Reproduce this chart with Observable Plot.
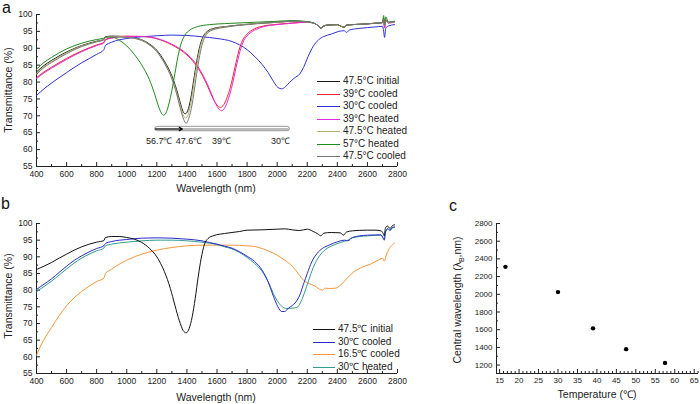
<!DOCTYPE html>
<html><head><meta charset="utf-8">
<script src="https://cdn.jsdelivr.net/npm/d3@7"></script>
<script src="https://cdn.jsdelivr.net/npm/@observablehq/plot@0.6"></script>
<style>
body{margin:0;background:#fff}
#fig{position:relative;width:700px;height:404px;overflow:hidden;background:#fff;font-family:"Liberation Sans",Arial,sans-serif;color:#222}
.plabel{position:absolute;font-size:16px;line-height:16px;color:#111}
.title{position:absolute;white-space:nowrap;font-size:10.5px;transform:translate(-50%,-50%)}
.rot{transform:translate(-50%,-50%) rotate(-90deg)}
.leg{position:absolute;font-size:10px;line-height:12.5px;white-space:nowrap;width:110px}
.leg .row{position:relative;height:12.5px}
.leg .ln{position:absolute;top:6px;height:0;border-top:1.2px solid}
.leg .tx{position:absolute;top:0;white-space:nowrap}
</style>
</head><body>
<div id="fig"></div>
<script>
// ---------------- DATA ----------------
// Panel a: transmittance spectra [wavelength nm, transmittance %]
const tailA = [[2240,97.5],[2270,96.8],[2290,96.0],[2310,96.6],[2340,96.9],[2400,97.0],[2425,96.5],[2445,96.3],[2465,96.9],[2550,97.1],[2650,97.4],[2700,97.6]];

const a_initial475 = [[400,83.0],[450,84.9],[500,86.4],[600,88.9],[700,90.8],[800,92.1],[848,92.6],[858,93.4],[900,93.6],[1000,93.4],[1100,92.5],[1150,91.3],[1200,89.4],[1250,86.2],[1300,81.8],[1330,78],[1355,74],[1375,71.2],[1390,70.6],[1405,71.5],[1425,75],[1445,80.5],[1465,86],[1485,90.5],[1505,93.2],[1535,95],[1580,95.9],[1650,96.4],[1750,96.9],[1850,97.3],[2000,97.7],[2100,98.0],[2200,97.8]];
const a_cooled39 = [[400,81.3],[450,83],[500,84.4],[600,87],[700,89.2],[800,91],[848,91.8],[858,92.6],[900,93.1],[1000,93.6],[1100,93.5],[1200,92.8],[1300,91],[1400,88],[1450,85.6],[1500,82.2],[1540,78.5],[1575,75],[1600,73.2],[1622,72.5],[1645,73.3],[1670,75.8],[1695,79.5],[1720,84.5],[1745,89.2],[1770,92.4],[1800,94.2],[1850,95.8],[1900,96.5],[2000,97.1],[2100,97.5],[2200,97.7]];
const a_cooled30 = [[400,76],[450,78],[500,79.7],[600,82.8],[700,85.7],[800,88.2],[848,89.6],[858,90.8],[900,91.8],[1000,92.9],[1100,93.4],[1200,93.7],[1300,93.9],[1400,93.8],[1500,93.4],[1600,92.9],[1700,92],[1750,91],[1800,89.6],[1850,87.6],[1900,85.2],[1940,82.8],[1975,80.2],[2005,78.4],[2030,78],[2055,78.6],[2080,79.8],[2115,81.2],[2150,82.4],[2175,84.3],[2205,87.5],[2240,90.6],[2275,92.5],[2310,93.5],[2360,94.2],[2410,95],[2445,95.2],[2462,94.7],[2480,95.4],[2550,95.9],[2650,96.3],[2700,96.5],[2708,95],[2714,93.2],[2722,96],[2740,96.6],[2780,97]];
const a_heated39 = [[400,81],[450,82.7],[500,84.1],[600,86.7],[700,89],[800,90.8],[848,91.6],[858,92.4],[900,93],[1000,93.5],[1100,93.5],[1200,92.9],[1300,91.2],[1400,88.3],[1450,86],[1500,82.6],[1545,78.5],[1582,74.5],[1608,72.3],[1630,71.5],[1652,72.4],[1677,75.2],[1702,79.2],[1727,84.3],[1752,89],[1777,92.2],[1808,94],[1860,95.6],[1910,96.4],[2000,97],[2100,97.4],[2200,97.7]];
const a_heated475 = [[400,82.6],[450,84.6],[500,86.1],[600,88.7],[700,90.7],[800,92.0],[848,92.6],[858,93.3],[900,93.5],[1000,93.3],[1100,92.4],[1150,91.1],[1200,89.1],[1250,85.8],[1300,81.3],[1330,77.3],[1355,73.2],[1377,70.1],[1392,69.3],[1408,70.4],[1428,74.2],[1448,80],[1468,85.6],[1488,90.2],[1508,93],[1540,94.9],[1585,95.8],[1650,96.3],[1750,96.9],[1850,97.3],[2000,97.7],[2100,98.0],[2200,97.8]];
const a_heated57 = [[400,83.8],[450,85.8],[500,87.3],[600,89.8],[700,91.5],[800,92.6],[848,93.0],[858,93.3],[900,93.3],[950,92.4],[1000,90.7],[1050,88.2],[1100,85],[1150,80.8],[1185,76.5],[1210,73],[1230,70.8],[1245,70.2],[1260,70.8],[1280,73.5],[1300,77.5],[1320,82.5],[1340,87.5],[1360,91.2],[1385,93.8],[1420,95.4],[1470,96.4],[1550,97],[1650,97.3],[1800,97.6],[2000,98],[2100,98.2],[2200,97.9]];
const a_cooled475 = [[400,82.3],[450,84.3],[500,85.8],[600,88.4],[700,90.5],[800,91.9],[848,92.5],[858,93.2],[900,93.4],[1000,93.2],[1100,92.3],[1150,91],[1200,89],[1250,85.6],[1300,80.9],[1330,76.7],[1355,72.4],[1378,69],[1395,67.8],[1412,69.2],[1435,73.5],[1455,79.5],[1475,85.3],[1495,90],[1515,92.9],[1545,94.8],[1590,95.7],[1650,96.2],[1750,96.8],[1850,97.2],[2000,97.7],[2100,98.0],[2200,97.8]];
const spikeBlack = [[2708,98.5],[2714,96.8],[2722,98.2],[2740,97.6],[2780,97.9]];
const spikeGreen = [[2708,99.7],[2714,97],[2722,99.3],[2740,97.8],[2780,98]];
const spikeRed = [[2708,98.8],[2714,96],[2722,98.5],[2740,97.5],[2780,97.8]];

const aNames = ["47.5°C initial","39°C cooled","30°C cooled","39°C heated","47.5°C heated","57°C heated","47.5°C cooled"];
const aColors = ["#1a1a1a","#e8262f","#3030d8","#e22ad6","#b4b06a","#1f8a1f","#777777"];
const aSeries = [
  a_initial475.concat(tailA, spikeBlack),
  a_cooled39.concat(tailA, spikeRed),
  a_cooled30,
  a_heated39.concat(tailA, spikeRed),
  a_heated475.concat(tailA, spikeBlack),
  a_heated57.concat(tailA, spikeGreen),
  a_cooled475.concat(tailA, spikeBlack)
];

// Panel a annotation
const annotSpan = [1190, 2085];
const annotArrowTip = 1370;
const annotLevel = 66.1;
const annotLabels = ["56.7℃","47.6℃","39℃","30℃"];
const annotLabelX = [1216,1414,1630,2022];
const annotLabelY = 62.4;

// Panel b
const b_initial475 = [[400,86.2],[450,87.2],[500,88.3],[550,89.6],[600,90.8],[650,92],[700,93],[750,93.8],[800,94.4],[848,94.9],[858,95.8],[900,96.1],[950,96.1],[1000,95.8],[1050,95.3],[1100,94.3],[1150,92.6],[1200,90],[1250,85.6],[1290,80.5],[1320,75.5],[1350,70.8],[1375,67.9],[1395,67.2],[1415,68.5],[1435,72],[1455,77.5],[1475,84],[1495,89.6],[1515,93.5],[1540,95.5],[1580,96.4],[1650,97],[1750,97.6],[1800,98],[1900,98.1],[2000,98.3],[2050,98.4],[2100,98.1],[2150,97.9],[2200,98.3],[2240,97.6],[2270,96.9],[2290,96.3],[2310,97.1],[2360,97.3],[2420,97.2],[2440,96.5],[2460,97.4],[2500,97.8],[2600,98],[2650,98],[2690,97.8],[2705,97],[2712,96.3],[2720,98.7],[2735,99.2],[2750,98.5],[2765,99.3],[2780,99.6]];
const b_cooled30 = [[400,80.2],[450,81.8],[500,83.4],[550,85.3],[600,87.2],[650,88.9],[700,90.3],[750,91.5],[800,92.5],[848,93.3],[858,94],[900,94.6],[1000,95.2],[1100,95.6],[1200,95.7],[1300,95.6],[1400,95.3],[1500,94.8],[1550,94.3],[1600,93.8],[1650,93.2],[1700,92.6],[1750,91.5],[1800,90.2],[1850,88.6],[1900,86],[1940,82.5],[1975,78.2],[2005,75],[2030,73.6],[2050,73.6],[2075,74.6],[2100,75.4],[2125,76.5],[2150,78.5],[2175,81.8],[2200,85],[2230,88.5],[2265,91],[2300,92.5],[2350,93.6],[2400,94.5],[2450,95],[2470,94.8],[2500,95.8],[2600,96.5],[2690,96.6],[2705,95.5],[2712,95],[2720,97.5],[2735,98.5],[2750,98],[2765,98.8],[2780,99]];
const b_cooled165 = [[400,60.5],[430,63.5],[460,66],[500,68.8],[550,72.3],[600,75.3],[650,77.7],[700,79.6],[750,81.2],[800,82.6],[848,83.6],[858,85],[900,86.3],[950,87.8],[1000,89],[1100,90.8],[1200,92],[1300,92.8],[1400,93.3],[1500,93.5],[1600,93.5],[1700,93.5],[1800,93.3],[1850,93.1],[1900,92.5],[1950,91.6],[2000,90.5],[2050,89],[2100,87.2],[2140,85],[2175,83],[2210,82],[2250,81.3],[2280,80.3],[2300,80],[2320,80.6],[2350,80.5],[2390,80.6],[2420,81.5],[2450,82.8],[2480,84.3],[2510,85.5],[2560,86.8],[2620,87.8],[2680,89.2],[2700,89.6],[2712,88.7],[2725,90.5],[2745,92.5],[2765,93.5],[2780,94.2]];
const b_heated30 = [[400,79.5],[450,81.1],[500,82.7],[550,84.5],[600,86.4],[650,88.1],[700,89.6],[750,90.8],[800,91.8],[848,92.6],[858,93.3],[900,93.8],[1000,94.4],[1100,94.8],[1200,95],[1300,95],[1400,94.8],[1500,94.4],[1550,94.1],[1600,93.7],[1650,93],[1700,92.4],[1750,91.3],[1800,89.8],[1850,88],[1900,85.6],[1940,82.5],[1975,79],[2005,76.5],[2035,75],[2065,74.5],[2100,74.6],[2130,74.8],[2155,76.2],[2180,79],[2210,83],[2240,86.8],[2270,89.5],[2310,91.8],[2360,93.2],[2420,94.3],[2470,95],[2500,95.7],[2600,96.3],[2690,96.5],[2705,95.6],[2712,95.2],[2720,97.3],[2735,98.3],[2750,97.8],[2765,98.6],[2780,98.8]];
const bNames = ["47.5℃ initial","30℃ cooled","16.5℃ cooled","30℃ heated"];
const bColors = ["#111111","#2a2ac8","#f5963c","#2e9e8e"];
const bSeries = [b_initial475, b_cooled30, b_cooled165, b_heated30];
const bOrder = [2, 3, 1, 0]; // drawing order (last on top)

// Panel c: central wavelength vs temperature
const cTemp = [16.5, 30, 39, 47.5, 57.5];
const cWave = [2310, 2025, 1615, 1380, 1225];

// Ticks
const abXTicks = [400,600,800,1000,1200,1400,1600,1800,2000,2200,2400,2600,2800];
const abXMinor = [500,700,900,1100,1300,1500,1700,1900,2100,2300,2500,2700];
const abYTicks = [55,60,65,70,75,80,85,90,95,100];
const abYMinor = [57.5,62.5,67.5,72.5,77.5,82.5,87.5,92.5,97.5];
const cXTicks = [15,20,25,30,35,40,45,50,55,60,65];
const cYTicks = [1200,1400,1600,1800,2000,2200,2400,2600,2800];

// ---------------- DRAW ----------------
const fig = document.getElementById("fig");
const FONT = '"Liberation Sans", Arial, sans-serif';
const fmt = d => String(d);

function place(el, left, top) {
  el.style.position = "absolute"; el.style.left = left + "px"; el.style.top = top + "px";
  fig.appendChild(el);
}
function axesMarks(xt, xm, yt, ym, x0, y0) {
  return [
    Plot.axisX(xm, {tickSize: -2, fill: "none", label: null}),
    Plot.axisY(ym, {tickSize: -2, fill: "none", label: null}),
    Plot.axisX(xt, {tickSize: -4, tickPadding: 8, tickFormat: fmt, label: null}),
    Plot.axisY(yt, {tickSize: -4, tickPadding: 8, tickFormat: fmt, label: null}),
    Plot.ruleX([x0], {stroke: "#222"}),
    Plot.ruleY([y0], {stroke: "#222"})
  ];
}
const lineOf = (pts, color) => Plot.line(pts, {x: d => d[0], y: d => d[1], stroke: color, strokeWidth: 1, curve: "monotone-x"});

// Panel a
const plotA = Plot.plot({
  width: 410, height: 190, marginLeft: 36, marginRight: 13, marginTop: 14, marginBottom: 24,
  x: {domain: [400, 2800]}, y: {domain: [55, 100]},
  style: {fontFamily: FONT, fontSize: "8.5px", color: "#222", background: "transparent", overflow: "visible"},
  marks: [
    ...axesMarks(abXTicks, abXMinor, abYTicks, abYMinor, 400, 55),
    ...aSeries.map((s, i) => lineOf(s, aColors[i])),
    Plot.rect([annotSpan], {x1: d => d[0], x2: d => d[1], y1: annotLevel - 0.65, y2: annotLevel + 0.65, rx: 2.5, fill: "#fff", stroke: "#8a8a8a", strokeWidth: 0.9}),
    Plot.ruleY([annotLevel], {x1: annotSpan[0], x2: annotSpan[1] - 6, stroke: "#555", strokeWidth: 0.8}),
    Plot.arrow([annotSpan], {x1: d => d[0], x2: annotArrowTip, y1: annotLevel, y2: annotLevel, stroke: "#000", strokeWidth: 1.1, headLength: 5}),
    Plot.text(annotLabels, {x: (d, i) => annotLabelX[i], y: annotLabelY, text: d => d, fontSize: 9, fill: "#222"})
  ]
});
place(plotA, 0, 0);

// Panel b
const plotB = Plot.plot({
  width: 410, height: 195, marginLeft: 36, marginRight: 13, marginTop: 14, marginBottom: 31,
  x: {domain: [400, 2800]}, y: {domain: [55, 100]},
  style: {fontFamily: FONT, fontSize: "8.5px", color: "#222", background: "transparent", overflow: "visible"},
  marks: [
    ...axesMarks(abXTicks, abXMinor, abYTicks, abYMinor, 400, 55),
    ...bOrder.map(i => lineOf(bSeries[i], bColors[i]))
  ]
});
place(plotB, 0, 209);

// Panel c
const plotC = Plot.plot({
  width: 260, height: 195, marginLeft: 56, marginRight: 2, marginTop: 14, marginBottom: 31,
  x: {domain: [14.2, 66.1]}, y: {domain: [1105, 2800]},
  style: {fontFamily: FONT, fontSize: "8px", color: "#222", background: "transparent", overflow: "visible"},
  marks: [
    ...axesMarks(cXTicks, d3.range(15, 67).filter(v => v % 5 !== 0), cYTicks, d3.range(1200, 2800, 100).filter(v => v % 200 !== 0), 14.2, 1105),
    Plot.dot(cTemp.map((t, i) => [t, cWave[i]]), {x: d => d[0], y: d => d[1], r: 2.2, fill: "#000", stroke: "none"})
  ]
});
place(plotC, 440, 209);

// Texts
function addText(html, cls, left, top) {
  const d = document.createElement("div"); d.className = cls; d.innerHTML = html;
  d.style.left = left + "px"; d.style.top = top + "px"; fig.appendChild(d); return d;
}
addText("a", "plabel", 2, 0);
addText("b", "plabel", 1, 196);
addText("c", "plabel", 449, 198);
addText("Wavelength (nm)", "title", 216, 188);
addText("Transmittance (%)", "title rot", 8, 90);
addText("Wavelength (nm)", "title", 216, 397);
addText("Transmittance (%)", "title rot", 8, 296);
addText("Temperature (℃)", "title", 597, 394);
addText("Central wavelength (λ<sub style='font-size:7px'>B</sub>,nm)", "title rot", 458, 300);

function legend(names, colors, left, top, lineW) {
  const box = document.createElement("div"); box.className = "leg";
  box.style.left = left + "px"; box.style.top = top + "px";
  names.forEach((n, i) => {
    const r = document.createElement("div"); r.className = "row";
    const l = document.createElement("div"); l.className = "ln";
    l.style.left = "0px"; l.style.width = lineW + "px"; l.style.borderTopColor = colors[i];
    const t = document.createElement("div"); t.className = "tx"; t.style.left = (lineW + 3) + "px"; t.textContent = n;
    r.appendChild(l); r.appendChild(t); box.appendChild(r);
  });
  fig.appendChild(box);
}
legend(aNames, aColors, 317, 75, 23);
legend(bNames, bColors, 313, 323, 22);
</script>
</body></html>
